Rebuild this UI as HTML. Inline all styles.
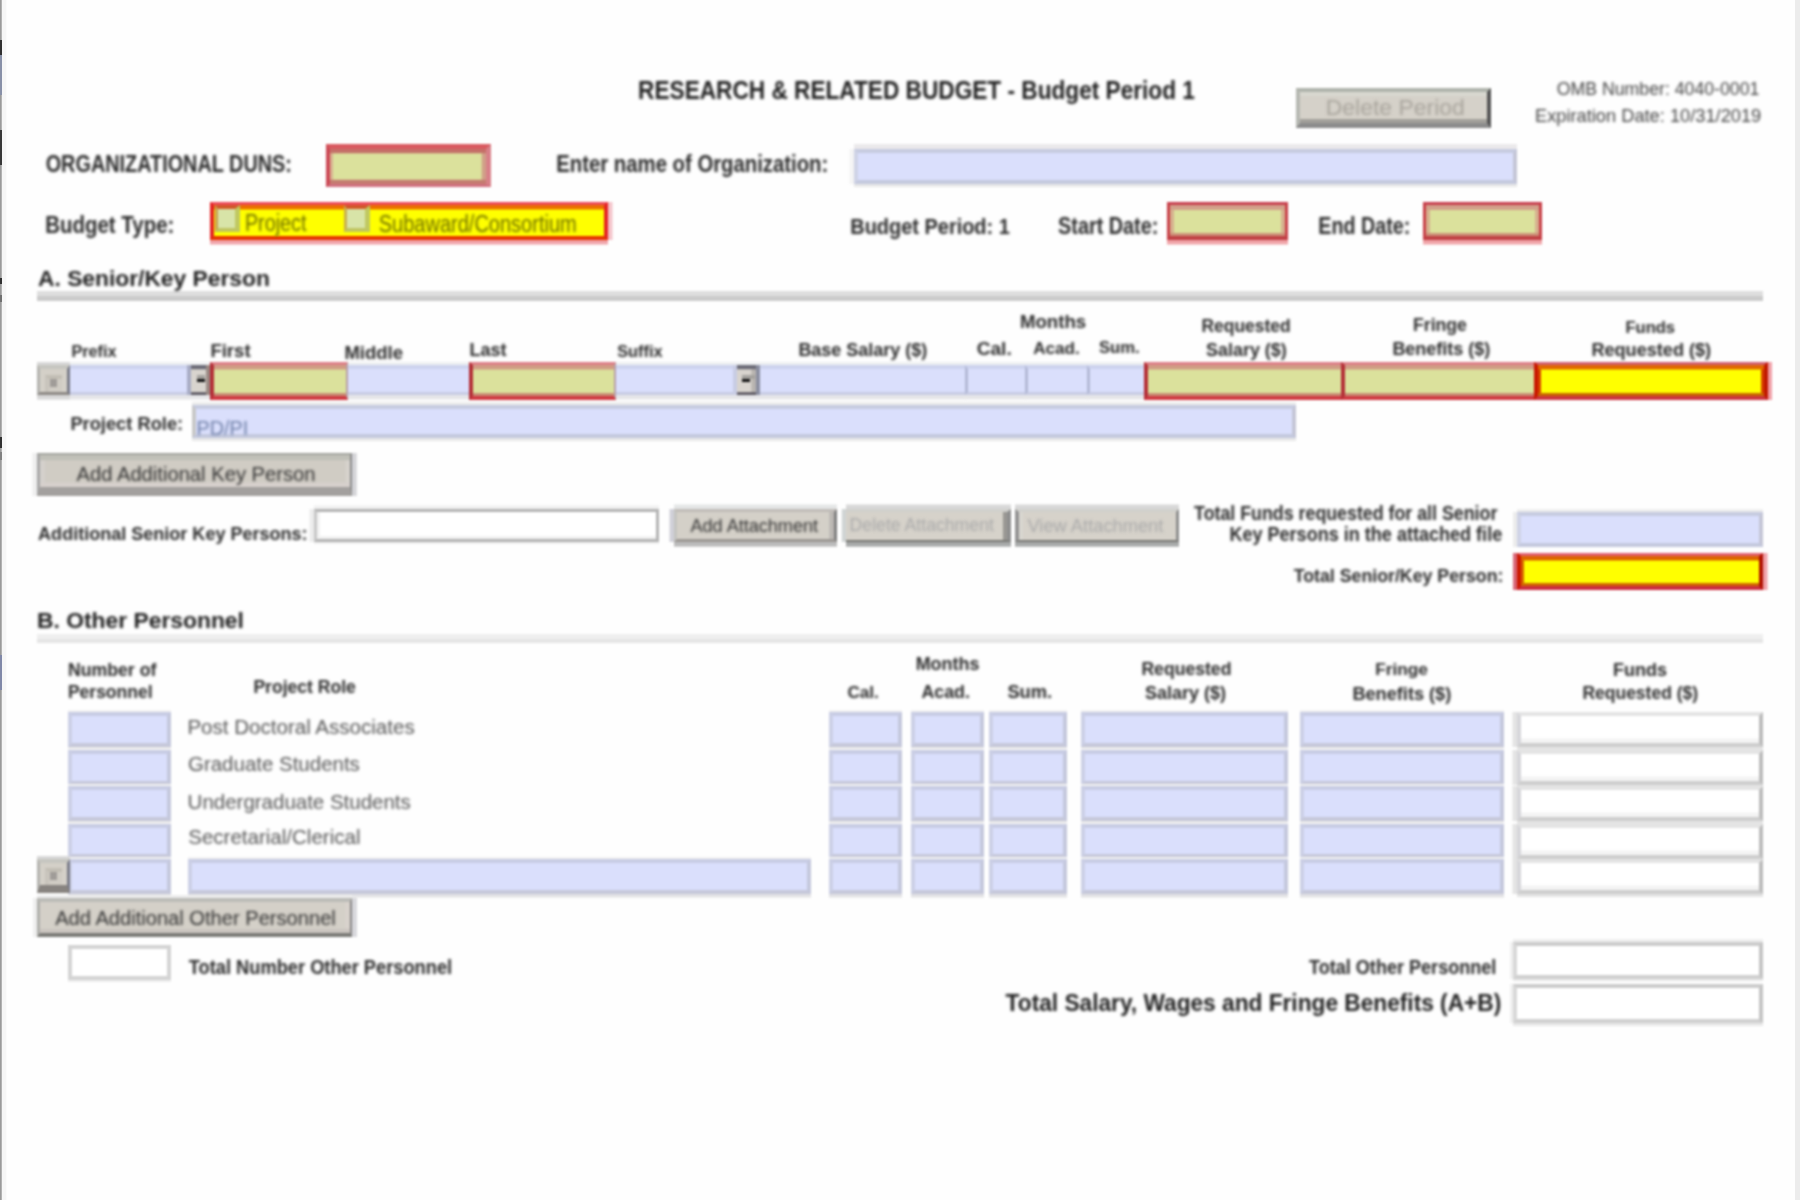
<!DOCTYPE html>
<html><head><meta charset="utf-8"><style>
html,body{margin:0;padding:0;background:#fefefe;width:1800px;height:1200px;overflow:hidden;}
body{position:relative;font-family:"Liberation Sans", sans-serif;-webkit-font-smoothing:antialiased;}
#w{position:absolute;left:0;top:0;width:1800px;height:1200px;filter:blur(0.8px);}
#tw{position:absolute;left:0;top:0;width:1800px;height:1200px;filter:blur(1.6px);}
.t{position:absolute;white-space:nowrap;line-height:1;}
.f{position:absolute;box-sizing:border-box;}
</style></head><body>
<div style="position:absolute;left:0;top:0;width:1px;height:1200px;background:#9a9a9a"></div>
<div style="position:absolute;left:1px;top:0;width:1px;height:1200px;background:#b2b2b2"></div>
<div style="position:absolute;left:2px;top:0;width:4px;height:1200px;background:#f6f6f6"></div>
<div style="position:absolute;left:6px;top:0;width:1px;height:1200px;background:#fbfbfb"></div>
<div style="position:absolute;left:0;top:40px;width:2px;height:15px;background:#303030"></div>
<div style="position:absolute;left:0;top:55px;width:2px;height:40px;background:#8890a8"></div>
<div style="position:absolute;left:0;top:130px;width:2px;height:35px;background:#383838"></div>
<div style="position:absolute;left:0;top:278px;width:2px;height:6px;background:#303030"></div>
<div style="position:absolute;left:0;top:295px;width:2px;height:7px;background:#707070"></div>
<div style="position:absolute;left:0;top:437px;width:2px;height:11px;background:#303030"></div>
<div style="position:absolute;left:0;top:452px;width:2px;height:8px;background:#808080"></div>
<div style="position:absolute;left:0;top:655px;width:2px;height:35px;background:#8088a8"></div>
<div style="position:absolute;left:1795px;top:0;width:5px;height:1200px;background:#ececec"></div>
<div id="w">
<div style="position:absolute;left:37px;top:291px;width:1726px;height:5px;background:#dedede"></div>
<div style="position:absolute;left:37px;top:296px;width:1726px;height:4.5px;background:#cbcbcb"></div>
<div style="position:absolute;left:37px;top:634px;width:1726px;height:4.5px;background:#efefef"></div>
<div style="position:absolute;left:37px;top:638.5px;width:1726px;height:4.5px;background:#e5e5e5"></div>
<div class="f" style="left:1296px;top:88px;width:195px;height:39.599999999999994px;background:#d5d1c9;border-top:4.5px solid #b0b4ac;border-bottom:5px solid #8c8c8c;border-left:4.5px solid #b6b8b2;border-right:4.5px solid #555555;box-shadow:inset 0px 4px 0 0 #d8d8d0,inset 0px -4px 0 0 #a2a09a;"></div>
<div class="f" style="left:326.4px;top:144px;width:164.60000000000002px;height:43px;background:#dbe19c;border-top:5px solid #d95a60;border-bottom:3.5px solid #d07080;border-left:4.5px solid #cc4a56;border-right:5px solid #d88088;box-shadow:inset 0px 4.3px 0 0 #c47068,inset 0px -4.3px 0 0 #c47c70,inset 3px 0px 0 0 #d8b090,inset -4.3px 0px 0 0 #d0a088;"></div>
<div class="f" style="left:854px;top:149px;width:663px;height:35px;background:#dadffc;border-top:4.5px solid #c6cbe0;border-bottom:4.5px solid #c4c9de;border-left:4.5px solid #cfd3e6;border-right:4.5px solid #c4c6d6;box-shadow:0px -5px 0 0 #ebe9eb,0px 3px 0 0 #e8e8e8,-4.5px 0px 0 0 #f4f4f4;"></div>
<div class="f" style="left:209.75px;top:201.75px;width:397.75px;height:38.0px;background:#ffff00;border-top:3px solid #ec4a58;border-bottom:4.5px solid #e63400;border-left:4.5px solid #e42424;border-right:4.5px solid #e42424;box-shadow:inset 0px 4.5px 0 0 #ea7000,0px 4.5px 0 0 #f0a4aa,4.5px 0px 0 0 #f4c4ca;"></div>
<div class="f" style="left:214.5px;top:205px;width:25.5px;height:26.5px;background:#d8e4a8;border-top:4.5px solid #d05828;border-bottom:4.5px solid #c0c460;border-left:3px solid #c8a050;border-right:5px solid #c0c860;"></div>
<div class="f" style="left:344px;top:205px;width:25.5px;height:26.5px;background:#d8e4a8;border-top:4.5px solid #d05828;border-bottom:4.5px solid #c0c460;border-left:3px solid #c8b050;border-right:5px solid #c0c860;"></div>
<div class="f" style="left:1167px;top:201.7px;width:121px;height:37.900000000000006px;background:#dbe19c;border-top:3px solid #c84050;border-bottom:4.6px solid #c04044;border-left:3px solid #c84048;border-right:3px solid #c84048;box-shadow:inset 0px 5px 0 0 #d2a08a,inset 0px -3px 0 0 #cc9078,inset 4px 0px 0 0 #d6b08e,inset -4px 0px 0 0 #d6b08e,0px 4.5px 0 0 #f0a4a8;"></div>
<div class="f" style="left:1422.5px;top:201.7px;width:119.20000000000005px;height:37.900000000000006px;background:#dbe19c;border-top:3px solid #c84050;border-bottom:4.6px solid #c04044;border-left:3px solid #c84048;border-right:3px solid #c84048;box-shadow:inset 0px 5px 0 0 #d2a08a,inset 0px -3px 0 0 #cc9078,inset 4px 0px 0 0 #d6b08e,inset -4px 0px 0 0 #d6b08e,0px 4.5px 0 0 #f0a4a8;"></div>
<div class="f" style="left:36.9px;top:365px;width:33.1px;height:30px;background:#d4d0c8;border-top:4.4px solid #c6c6c0;border-bottom:3px solid #8e8a86;border-left:3px solid #b4b4b0;border-right:3px solid #7a7c88;box-shadow:0px -3px 0 0 #d8d8d8,0px 4.6px 0 0 #d8d8d8;"></div>
<div style="position:absolute;left:45px;top:374.6px;width:17px;height:17px;background:#d0ccc4;box-sizing:border-box;border-top:4.4px solid #c2beb4;border-left:4.8px solid #c8c4bc"></div>
<div style="position:absolute;left:49.8px;top:379px;width:7.7px;height:8px;background:#a09c98"></div>
<div class="f" style="left:70px;top:365px;width:117.1px;height:30px;background:#dadffc;border-top:4.4px solid #cdd3ee;border-bottom:3px solid #c8cce4;box-shadow:0px -3px 0 0 #eef0f2,0px 4.6px 0 0 #e6e6e8;"></div>
<div class="f" style="left:187.1px;top:365px;width:22.700000000000017px;height:30px;background:#d8d4ce;border-left:4.6px solid #a8acc4;border-right:4.8px solid #9a8a84;box-shadow:inset 0px 4.3px 0 0 #6c6c78,inset 0px -2.7px 0 0 #5a5660,0px -3px 0 0 #eef0f2,0px 4.6px 0 0 #e6e6e8;"></div><div style="position:absolute;left:196.9px;top:374.6px;width:8.099999999999994px;height:4.6px;background:#a4a29e"></div><div style="position:absolute;left:196.9px;top:379.2px;width:7.699999999999989px;height:2.6px;background:#141414"></div>
<div class="f" style="left:209.6px;top:362px;width:138.70000000000002px;height:37.60000000000002px;background:#dbe19c;border-top:3px solid #dd8088;border-bottom:4.6px solid #d03a42;border-left:4.6px solid #b43038;border-right:2.8px solid #b8a0a8;box-shadow:inset 0px 4.4px 0 0 #d09c84,inset 0px -3px 0 0 #c88c74;"></div>
<div class="f" style="left:348.3px;top:365px;width:120.69999999999999px;height:30px;background:#dadffc;border-top:4.4px solid #cdd3ee;border-bottom:3px solid #c8cce4;box-shadow:0px -3px 0 0 #eef0f2,0px 4.6px 0 0 #e6e6e8;"></div>
<div class="f" style="left:469px;top:362px;width:147px;height:37.60000000000002px;background:#dbe19c;border-top:3px solid #dd8088;border-bottom:4.6px solid #d03a42;border-left:4.6px solid #b43038;border-right:2.8px solid #b8a0a8;box-shadow:inset 0px 4.4px 0 0 #d09c84,inset 0px -3px 0 0 #c88c74;"></div>
<div class="f" style="left:616px;top:365px;width:117.10000000000002px;height:30px;background:#dadffc;border-top:4.4px solid #cdd3ee;border-bottom:3px solid #c8cce4;box-shadow:0px -3px 0 0 #eef0f2,0px 4.6px 0 0 #e6e6e8;"></div>
<div class="f" style="left:733.1px;top:365px;width:26.699999999999932px;height:30px;background:#d8d4ce;border-left:4.6px solid #c8cce4;border-right:4.8px solid #8a8ea0;box-shadow:inset 0px 4.3px 0 0 #6c6c78,inset 0px -2.7px 0 0 #5a5660,inset -4.6px 0px 0 0 #b8b4b0,0px -3px 0 0 #eef0f2,0px 4.6px 0 0 #e6e6e8;"></div><div style="position:absolute;left:742px;top:374.6px;width:13.0px;height:4.6px;background:#a4a29e"></div><div style="position:absolute;left:742px;top:379.2px;width:8.399999999999977px;height:2.6px;background:#141414"></div>
<div class="f" style="left:759.8px;top:365px;width:206.20000000000005px;height:30px;background:#dadffc;border-top:4.4px solid #cdd3ee;border-bottom:3px solid #c8cce4;box-shadow:0px -3px 0 0 #eef0f2,0px 4.6px 0 0 #e6e6e8;"></div>
<div class="f" style="left:965px;top:365px;width:61px;height:30px;background:#dadffc;border-top:4.4px solid #cdd3ee;border-bottom:3px solid #c8cce4;border-left:3px solid #b4bad6;box-shadow:0px -3px 0 0 #eef0f2,0px 4.6px 0 0 #e6e6e8;"></div>
<div class="f" style="left:1025px;top:365px;width:63px;height:30px;background:#dadffc;border-top:4.4px solid #cdd3ee;border-bottom:3px solid #c8cce4;border-left:3px solid #b4bad6;box-shadow:0px -3px 0 0 #eef0f2,0px 4.6px 0 0 #e6e6e8;"></div>
<div class="f" style="left:1087px;top:365px;width:57px;height:30px;background:#dadffc;border-top:4.4px solid #cdd3ee;border-bottom:3px solid #c8cce4;border-left:3px solid #b4bad6;box-shadow:0px -3px 0 0 #eef0f2,0px 4.6px 0 0 #e6e6e8;"></div>
<div class="f" style="left:1144px;top:362px;width:199px;height:37.60000000000002px;background:#dbe19c;border-top:3px solid #dd8088;border-bottom:4.6px solid #d03a42;border-left:4.6px solid #b43038;border-right:2.8px solid #b8a0a8;box-shadow:inset 0px 4.4px 0 0 #d09c84,inset 0px -3px 0 0 #c88c74;"></div>
<div class="f" style="left:1341px;top:362px;width:195px;height:37.60000000000002px;background:#dbe19c;border-top:3px solid #dd8088;border-bottom:4.6px solid #d03a42;border-left:4.6px solid #b43038;border-right:2.8px solid #b8a0a8;box-shadow:inset 0px 4.4px 0 0 #d09c84,inset 0px -3px 0 0 #c88c74;"></div>
<div class="f" style="left:1534.4px;top:361.9px;width:233.29999999999995px;height:37.700000000000045px;background:#ffff00;border-top:3px solid #d06070;border-bottom:4.6px solid #cc3440;border-left:4.6px solid #c81800;border-right:4.6px solid #c01800;box-shadow:inset 0px 4.4px 0 0 #e06800,inset 0px -3px 0 0 #c86800,inset 3px 0px 0 0 #d84000,inset -3px 0px 0 0 #d84000,4px 0px 0 0 #f0a0a8;"></div>
<div class="f" style="left:192px;top:405px;width:1103.6px;height:32.5px;background:#dadffc;border-top:4.5px solid #c6cbe0;border-bottom:4.5px solid #c4c9de;border-left:4.5px solid #c8c8c8;border-right:4.5px solid #c4c6d6;box-shadow:0px -3px 0 0 #ececec,0px 3px 0 0 #e8e8e8;"></div>
<div class="f" style="left:36.75px;top:453px;width:315.0px;height:42.75px;background:#d0ccc4;border-top:2.75px solid #a4a6a0;border-bottom:9.5px solid #a3a09e;border-left:3px solid #a8a8a8;border-right:2.75px solid #8c8c8c;box-shadow:inset 0px 5.25px 0 0 #c0c0b8,inset 0px -4.5px 0 0 #d6d0cc,inset 5px 0px 0 0 #d4d0cc,inset -4.5px 0px 0 0 #d6d2cc,-4.75px 0px 0 0 #efefef,4.75px 0px 0 0 #d4d4d8;"></div>
<div class="f" style="left:313.8px;top:508.8px;width:345.09999999999997px;height:32.900000000000034px;background:#ffffff;border-top:3px solid #b4b4b4;border-bottom:3px solid #b4b4b4;border-left:3px solid #c8c8c8;border-right:3px solid #b4b4b4;box-shadow:inset 0px -3px 0 0 #f2f2f2,inset 3px 0px 0 0 #f2f2f2,0px -3.5px 0 0 #f0f0f0,-4.5px 0px 0 0 #ececec,0px 2px 0 0 #f0f0f0;"></div>
<div class="f" style="left:673.5px;top:508.8px;width:163.10000000000002px;height:33.099999999999966px;background:#d4d0c8;border-top:3.2px solid #c0bcb8;border-bottom:3px solid #9c9894;border-left:3.2px solid #c4c4c0;border-right:3px solid #808080;box-shadow:inset -4.7px 0px 0 0 #bcb8b4,0px -4.5px 0 0 #e4e6e6,0px 4.7px 0 0 #bcbcbc,-4.5px 0px 0 0 #d0d0d8;"></div>
<div class="f" style="left:846px;top:508.8px;width:165px;height:33.099999999999966px;background:#d6d2ca;border-top:3.2px solid #d0d0cc;border-bottom:2.7px solid #787874;border-right:4.9px solid #8e8e8e;box-shadow:inset -4.1px 0px 0 0 #9a9894,0px -4.5px 0 0 #d8d8d8,0px 4.7px 0 0 #a8aaaa,-4.2px 0px 0 0 #d0d4d4;"></div>
<div class="f" style="left:1014.5px;top:508.8px;width:164.9000000000001px;height:33.099999999999966px;background:#d6d2ca;border-top:3.2px solid #d0d0cc;border-bottom:2.7px solid #787874;border-left:4.5px solid #949494;border-right:3.5px solid #8e8e8e;box-shadow:inset 4px 0px 0 0 #d8d6d0,0px -4.5px 0 0 #d8d8d8,0px 4.7px 0 0 #a8aaaa;"></div>
<div class="f" style="left:1516.7px;top:511.7px;width:246.29999999999995px;height:35.00000000000006px;background:#dadffc;border-top:4.5px solid #c6cbe0;border-bottom:4.5px solid #c4c9de;border-left:4.5px solid #cfd3e6;border-right:4.5px solid #c4c6d6;box-shadow:0px -2.7px 0 0 #ececec,-4px 0px 0 0 #ececec;"></div>
<div class="f" style="left:1516.7px;top:552.5px;width:246.29999999999995px;height:37.5px;background:#ffff00;border-top:3px solid #e06070;border-bottom:4.5px solid #cc2c40;border-left:4.5px solid #cc1800;border-right:4.5px solid #b01000;box-shadow:inset 0px 4.5px 0 0 #dc6400,inset 0px -3px 0 0 #d06800,inset 3px 0px 0 0 #d86000,-4px 0px 0 0 #d86878,4.5px 0px 0 0 #f0a0a8;"></div>
<div class="f" style="left:67.5px;top:712px;width:103.5px;height:34.5px;background:#dadffc;border-top:4px solid #c8cce4;border-bottom:4.5px solid #c6c8da;border-left:4px solid #ccd0e6;border-right:4px solid #c4c8dc;box-shadow:0px 3.5px 0 0 #e2e2e4,0px -2px 0 0 #f2f2f2;"></div>
<div class="f" style="left:829px;top:712px;width:73.29999999999995px;height:34.5px;background:#dadffc;border-top:4px solid #c8cce4;border-bottom:4.5px solid #c6c8da;border-left:4px solid #ccd0e6;border-right:4px solid #c4c8dc;box-shadow:0px 3.5px 0 0 #e2e2e4,0px -2px 0 0 #f2f2f2;"></div>
<div class="f" style="left:910.7px;top:712px;width:72.89999999999998px;height:34.5px;background:#dadffc;border-top:4px solid #c8cce4;border-bottom:4.5px solid #c6c8da;border-left:4px solid #ccd0e6;border-right:4px solid #c4c8dc;box-shadow:0px 3.5px 0 0 #e2e2e4,0px -2px 0 0 #f2f2f2;"></div>
<div class="f" style="left:989.4px;top:712px;width:77.19999999999993px;height:34.5px;background:#dadffc;border-top:4px solid #c8cce4;border-bottom:4.5px solid #c6c8da;border-left:4px solid #ccd0e6;border-right:4px solid #c4c8dc;box-shadow:0px 3.5px 0 0 #e2e2e4,0px -2px 0 0 #f2f2f2;"></div>
<div class="f" style="left:1080.8px;top:712px;width:207.20000000000005px;height:34.5px;background:#dadffc;border-top:4px solid #c8cce4;border-bottom:4.5px solid #c6c8da;border-left:4px solid #ccd0e6;border-right:4px solid #c4c8dc;box-shadow:0px 3.5px 0 0 #e2e2e4,0px -2px 0 0 #f2f2f2;"></div>
<div class="f" style="left:1300px;top:712px;width:204px;height:34.5px;background:#dadffc;border-top:4px solid #c8cce4;border-bottom:4.5px solid #c6c8da;border-left:4px solid #ccd0e6;border-right:4px solid #c4c8dc;box-shadow:0px 3.5px 0 0 #e2e2e4,0px -2px 0 0 #f2f2f2;"></div>
<div class="f" style="left:1517px;top:712px;width:246px;height:35px;background:#ffffff;border-top:4.5px solid #e4e4e4;border-bottom:4.5px solid #cecece;border-left:4.5px solid #d6d6da;border-right:4px solid #bcbcbc;box-shadow:inset 0px -4.5px 0 0 #f4f4f4,0px 3px 0 0 #e4e4e4,-4.5px 0px 0 0 #e4e4e4;"></div>
<div class="f" style="left:67.5px;top:750px;width:103.5px;height:34.5px;background:#dadffc;border-top:4px solid #c8cce4;border-bottom:4.5px solid #c6c8da;border-left:4px solid #ccd0e6;border-right:4px solid #c4c8dc;box-shadow:0px 3.5px 0 0 #e2e2e4,0px -2px 0 0 #f2f2f2;"></div>
<div class="f" style="left:829px;top:750px;width:73.29999999999995px;height:34.5px;background:#dadffc;border-top:4px solid #c8cce4;border-bottom:4.5px solid #c6c8da;border-left:4px solid #ccd0e6;border-right:4px solid #c4c8dc;box-shadow:0px 3.5px 0 0 #e2e2e4,0px -2px 0 0 #f2f2f2;"></div>
<div class="f" style="left:910.7px;top:750px;width:72.89999999999998px;height:34.5px;background:#dadffc;border-top:4px solid #c8cce4;border-bottom:4.5px solid #c6c8da;border-left:4px solid #ccd0e6;border-right:4px solid #c4c8dc;box-shadow:0px 3.5px 0 0 #e2e2e4,0px -2px 0 0 #f2f2f2;"></div>
<div class="f" style="left:989.4px;top:750px;width:77.19999999999993px;height:34.5px;background:#dadffc;border-top:4px solid #c8cce4;border-bottom:4.5px solid #c6c8da;border-left:4px solid #ccd0e6;border-right:4px solid #c4c8dc;box-shadow:0px 3.5px 0 0 #e2e2e4,0px -2px 0 0 #f2f2f2;"></div>
<div class="f" style="left:1080.8px;top:750px;width:207.20000000000005px;height:34.5px;background:#dadffc;border-top:4px solid #c8cce4;border-bottom:4.5px solid #c6c8da;border-left:4px solid #ccd0e6;border-right:4px solid #c4c8dc;box-shadow:0px 3.5px 0 0 #e2e2e4,0px -2px 0 0 #f2f2f2;"></div>
<div class="f" style="left:1300px;top:750px;width:204px;height:34.5px;background:#dadffc;border-top:4px solid #c8cce4;border-bottom:4.5px solid #c6c8da;border-left:4px solid #ccd0e6;border-right:4px solid #c4c8dc;box-shadow:0px 3.5px 0 0 #e2e2e4,0px -2px 0 0 #f2f2f2;"></div>
<div class="f" style="left:1517px;top:750px;width:246px;height:35px;background:#ffffff;border-top:4.5px solid #e4e4e4;border-bottom:4.5px solid #cecece;border-left:4.5px solid #d6d6da;border-right:4px solid #bcbcbc;box-shadow:inset 0px -4.5px 0 0 #f4f4f4,0px 3px 0 0 #e4e4e4,-4.5px 0px 0 0 #e4e4e4;"></div>
<div class="f" style="left:67.5px;top:786px;width:103.5px;height:34.5px;background:#dadffc;border-top:4px solid #c8cce4;border-bottom:4.5px solid #c6c8da;border-left:4px solid #ccd0e6;border-right:4px solid #c4c8dc;box-shadow:0px 3.5px 0 0 #e2e2e4,0px -2px 0 0 #f2f2f2;"></div>
<div class="f" style="left:829px;top:786px;width:73.29999999999995px;height:34.5px;background:#dadffc;border-top:4px solid #c8cce4;border-bottom:4.5px solid #c6c8da;border-left:4px solid #ccd0e6;border-right:4px solid #c4c8dc;box-shadow:0px 3.5px 0 0 #e2e2e4,0px -2px 0 0 #f2f2f2;"></div>
<div class="f" style="left:910.7px;top:786px;width:72.89999999999998px;height:34.5px;background:#dadffc;border-top:4px solid #c8cce4;border-bottom:4.5px solid #c6c8da;border-left:4px solid #ccd0e6;border-right:4px solid #c4c8dc;box-shadow:0px 3.5px 0 0 #e2e2e4,0px -2px 0 0 #f2f2f2;"></div>
<div class="f" style="left:989.4px;top:786px;width:77.19999999999993px;height:34.5px;background:#dadffc;border-top:4px solid #c8cce4;border-bottom:4.5px solid #c6c8da;border-left:4px solid #ccd0e6;border-right:4px solid #c4c8dc;box-shadow:0px 3.5px 0 0 #e2e2e4,0px -2px 0 0 #f2f2f2;"></div>
<div class="f" style="left:1080.8px;top:786px;width:207.20000000000005px;height:34.5px;background:#dadffc;border-top:4px solid #c8cce4;border-bottom:4.5px solid #c6c8da;border-left:4px solid #ccd0e6;border-right:4px solid #c4c8dc;box-shadow:0px 3.5px 0 0 #e2e2e4,0px -2px 0 0 #f2f2f2;"></div>
<div class="f" style="left:1300px;top:786px;width:204px;height:34.5px;background:#dadffc;border-top:4px solid #c8cce4;border-bottom:4.5px solid #c6c8da;border-left:4px solid #ccd0e6;border-right:4px solid #c4c8dc;box-shadow:0px 3.5px 0 0 #e2e2e4,0px -2px 0 0 #f2f2f2;"></div>
<div class="f" style="left:1517px;top:786px;width:246px;height:35px;background:#ffffff;border-top:4.5px solid #e4e4e4;border-bottom:4.5px solid #cecece;border-left:4.5px solid #d6d6da;border-right:4px solid #bcbcbc;box-shadow:inset 0px -4.5px 0 0 #f4f4f4,0px 3px 0 0 #e4e4e4,-4.5px 0px 0 0 #e4e4e4;"></div>
<div class="f" style="left:67.5px;top:823.5px;width:103.5px;height:34.5px;background:#dadffc;border-top:4px solid #c8cce4;border-bottom:4.5px solid #c6c8da;border-left:4px solid #ccd0e6;border-right:4px solid #c4c8dc;box-shadow:0px 3.5px 0 0 #e2e2e4,0px -2px 0 0 #f2f2f2;"></div>
<div class="f" style="left:829px;top:823.5px;width:73.29999999999995px;height:34.5px;background:#dadffc;border-top:4px solid #c8cce4;border-bottom:4.5px solid #c6c8da;border-left:4px solid #ccd0e6;border-right:4px solid #c4c8dc;box-shadow:0px 3.5px 0 0 #e2e2e4,0px -2px 0 0 #f2f2f2;"></div>
<div class="f" style="left:910.7px;top:823.5px;width:72.89999999999998px;height:34.5px;background:#dadffc;border-top:4px solid #c8cce4;border-bottom:4.5px solid #c6c8da;border-left:4px solid #ccd0e6;border-right:4px solid #c4c8dc;box-shadow:0px 3.5px 0 0 #e2e2e4,0px -2px 0 0 #f2f2f2;"></div>
<div class="f" style="left:989.4px;top:823.5px;width:77.19999999999993px;height:34.5px;background:#dadffc;border-top:4px solid #c8cce4;border-bottom:4.5px solid #c6c8da;border-left:4px solid #ccd0e6;border-right:4px solid #c4c8dc;box-shadow:0px 3.5px 0 0 #e2e2e4,0px -2px 0 0 #f2f2f2;"></div>
<div class="f" style="left:1080.8px;top:823.5px;width:207.20000000000005px;height:34.5px;background:#dadffc;border-top:4px solid #c8cce4;border-bottom:4.5px solid #c6c8da;border-left:4px solid #ccd0e6;border-right:4px solid #c4c8dc;box-shadow:0px 3.5px 0 0 #e2e2e4,0px -2px 0 0 #f2f2f2;"></div>
<div class="f" style="left:1300px;top:823.5px;width:204px;height:34.5px;background:#dadffc;border-top:4px solid #c8cce4;border-bottom:4.5px solid #c6c8da;border-left:4px solid #ccd0e6;border-right:4px solid #c4c8dc;box-shadow:0px 3.5px 0 0 #e2e2e4,0px -2px 0 0 #f2f2f2;"></div>
<div class="f" style="left:1517px;top:823.5px;width:246px;height:35.0px;background:#ffffff;border-top:4.5px solid #e4e4e4;border-bottom:4.5px solid #cecece;border-left:4.5px solid #d6d6da;border-right:4px solid #bcbcbc;box-shadow:inset 0px -4.5px 0 0 #f4f4f4,0px 3px 0 0 #e4e4e4,-4.5px 0px 0 0 #e4e4e4;"></div>
<div class="f" style="left:67.5px;top:859px;width:103.5px;height:34.5px;background:#dadffc;border-top:4px solid #c8cce4;border-bottom:4.5px solid #c6c8da;border-left:4px solid #ccd0e6;border-right:4px solid #c4c8dc;box-shadow:0px 3.5px 0 0 #e2e2e4,0px -2px 0 0 #f2f2f2;"></div>
<div class="f" style="left:829px;top:859px;width:73.29999999999995px;height:34.5px;background:#dadffc;border-top:4px solid #c8cce4;border-bottom:4.5px solid #c6c8da;border-left:4px solid #ccd0e6;border-right:4px solid #c4c8dc;box-shadow:0px 3.5px 0 0 #e2e2e4,0px -2px 0 0 #f2f2f2;"></div>
<div class="f" style="left:910.7px;top:859px;width:72.89999999999998px;height:34.5px;background:#dadffc;border-top:4px solid #c8cce4;border-bottom:4.5px solid #c6c8da;border-left:4px solid #ccd0e6;border-right:4px solid #c4c8dc;box-shadow:0px 3.5px 0 0 #e2e2e4,0px -2px 0 0 #f2f2f2;"></div>
<div class="f" style="left:989.4px;top:859px;width:77.19999999999993px;height:34.5px;background:#dadffc;border-top:4px solid #c8cce4;border-bottom:4.5px solid #c6c8da;border-left:4px solid #ccd0e6;border-right:4px solid #c4c8dc;box-shadow:0px 3.5px 0 0 #e2e2e4,0px -2px 0 0 #f2f2f2;"></div>
<div class="f" style="left:1080.8px;top:859px;width:207.20000000000005px;height:34.5px;background:#dadffc;border-top:4px solid #c8cce4;border-bottom:4.5px solid #c6c8da;border-left:4px solid #ccd0e6;border-right:4px solid #c4c8dc;box-shadow:0px 3.5px 0 0 #e2e2e4,0px -2px 0 0 #f2f2f2;"></div>
<div class="f" style="left:1300px;top:859px;width:204px;height:34.5px;background:#dadffc;border-top:4px solid #c8cce4;border-bottom:4.5px solid #c6c8da;border-left:4px solid #ccd0e6;border-right:4px solid #c4c8dc;box-shadow:0px 3.5px 0 0 #e2e2e4,0px -2px 0 0 #f2f2f2;"></div>
<div class="f" style="left:1517px;top:859px;width:246px;height:35px;background:#ffffff;border-top:4.5px solid #e4e4e4;border-bottom:4.5px solid #cecece;border-left:4.5px solid #d6d6da;border-right:4px solid #bcbcbc;box-shadow:inset 0px -4.5px 0 0 #f4f4f4,0px 3px 0 0 #e4e4e4,-4.5px 0px 0 0 #e4e4e4;"></div>
<div class="f" style="left:36.7px;top:859px;width:33.3px;height:34.299999999999955px;background:#d4d0c8;border-top:4.4px solid #c6c6c0;border-bottom:8px solid #888480;border-left:3px solid #b4b4b0;border-right:3px solid #7a7c88;box-shadow:0px -3px 0 0 #d8d8d8;"></div>
<div style="position:absolute;left:45px;top:868px;width:17px;height:17px;background:#d0ccc4;box-sizing:border-box;border-top:4.4px solid #c2beb4;border-left:4.8px solid #c8c4bc"></div>
<div style="position:absolute;left:49.8px;top:872.4px;width:7.7px;height:8px;background:#a09c98"></div>
<div class="f" style="left:187.5px;top:859px;width:623.5px;height:34.5px;background:#dadffc;border-top:4px solid #c8cce4;border-bottom:4.5px solid #c6c8da;border-left:4px solid #ccd0e6;border-right:4px solid #c4c8dc;box-shadow:0px 3.5px 0 0 #e2e2e4,0px -2px 0 0 #f2f2f2;"></div>
<div class="f" style="left:37px;top:897.75px;width:314.75px;height:39.5px;background:#d4d0c8;border-top:4.5px solid #bcbcb8;border-bottom:4.75px solid #7c7c78;border-left:3px solid #b0b0ac;border-right:2.75px solid #8a8888;box-shadow:inset 0px -4.25px 0 0 #cbc5c0,inset -5px 0px 0 0 #d8d2cc,-4px 0px 0 0 #efefef,5px 0px 0 0 #d8d8dc,0px -3px 0 0 #ececec;"></div>
<div class="f" style="left:67.5px;top:945px;width:103.5px;height:35px;background:#ffffff;border-top:4px solid #d4d4d4;border-bottom:4px solid #d4d4d4;border-left:4px solid #d4d4d4;border-right:4px solid #d4d4d4;box-shadow:0px 2px 0 0 #eeeeee;"></div>
<div class="f" style="left:1513px;top:942px;width:250px;height:37.39999999999998px;background:#ffffff;border-top:4px solid #cccccc;border-bottom:4px solid #d0d0d0;border-left:4px solid #d8d8d8;border-right:4px solid #c4c4c4;box-shadow:0px -3px 0 0 #efefef,0px 2px 0 0 #e8e8e8,-3px 0px 0 0 #f0f0f0;"></div>
<div class="f" style="left:1513px;top:983.6px;width:250px;height:39.69999999999993px;background:#ffffff;border-top:4px solid #cccccc;border-bottom:4px solid #d0d0d0;border-left:4px solid #d8d8d8;border-right:4px solid #c4c4c4;box-shadow:0px 3px 0 0 #e8e8e8,-3px 0px 0 0 #f0f0f0;"></div>
</div><div id="tw">
<div class="t" style="left:638.1px;top:80.3px;font-size:22.65px;font-weight:bold;color:#1e1e1e;transform:scaleY(1.120);transform-origin:0 19.17px;">RESEARCH &amp; RELATED BUDGET - Budget Period 1</div>
<div class="t" style="left:1325.7px;top:96.3px;font-size:22.96px;color:#a8a49c;">Delete Period</div>
<div class="t" style="left:1556.8px;top:81.4px;font-size:17.69px;color:#444;">OMB Number: 4040-0001</div>
<div class="t" style="left:1535.0px;top:107.3px;font-size:18.25px;color:#444;">Expiration Date: 10/31/2019</div>
<div class="t" style="left:45.7px;top:155.6px;font-size:19.85px;font-weight:bold;color:#2a2a2a;transform:scaleY(1.205);transform-origin:0 16.80px;">ORGANIZATIONAL DUNS:</div>
<div class="t" style="left:556.3px;top:155.2px;font-size:20.32px;font-weight:bold;color:#2a2a2a;transform:scaleY(1.177);transform-origin:0 17.20px;">Enter name of Organization:</div>
<div class="t" style="left:45.3px;top:215.9px;font-size:20.45px;font-weight:bold;color:#2a2a2a;transform:scaleY(1.205);transform-origin:0 17.31px;">Budget Type:</div>
<div class="t" style="left:244.9px;top:214.8px;font-size:19.77px;color:#6a6a00;transform:scaleY(1.173);transform-origin:0 16.74px;">Project</div>
<div class="t" style="left:378.7px;top:214.6px;font-size:20.02px;color:#6a6a00;transform:scaleY(1.158);transform-origin:0 16.95px;">Subaward/Consortium</div>
<div class="t" style="left:850.3px;top:217.9px;font-size:19.96px;font-weight:bold;color:#2a2a2a;transform:scaleY(1.125);transform-origin:0 16.90px;">Budget Period: 1</div>
<div class="t" style="left:1058.1px;top:217.7px;font-size:19.82px;font-weight:bold;color:#2a2a2a;transform:scaleY(1.206);transform-origin:0 16.78px;">Start Date:</div>
<div class="t" style="left:1318.3px;top:217.8px;font-size:19.72px;font-weight:bold;color:#2a2a2a;transform:scaleY(1.213);transform-origin:0 16.69px;">End Date:</div>
<div class="t" style="left:38.0px;top:267.1px;font-size:22.80px;font-weight:bold;color:#1e1e1e;">A. Senior/Key Person</div>
<div class="t" style="left:71.5px;top:342.6px;font-size:16.22px;font-weight:bold;color:#2a2a2a;">Prefix</div>
<div class="t" style="left:210.4px;top:341.5px;font-size:18.54px;font-weight:bold;color:#2a2a2a;">First</div>
<div class="t" style="left:344.4px;top:343.5px;font-size:18.50px;font-weight:bold;color:#2a2a2a;">Middle</div>
<div class="t" style="left:469.4px;top:341.4px;font-size:18.06px;font-weight:bold;color:#2a2a2a;">Last</div>
<div class="t" style="left:617.2px;top:342.5px;font-size:16.35px;font-weight:bold;color:#2a2a2a;">Suffix</div>
<div class="t" style="left:798.4px;top:342.1px;font-size:17.97px;font-weight:bold;color:#2a2a2a;">Base Salary ($)</div>
<div class="t" style="left:1020.0px;top:312.6px;font-size:18.62px;font-weight:bold;color:#2a2a2a;">Months</div>
<div class="t" style="left:976.7px;top:338.7px;font-size:19.12px;font-weight:bold;color:#2a2a2a;">Cal.</div>
<div class="t" style="left:1033.2px;top:339.7px;font-size:17.08px;font-weight:bold;color:#2a2a2a;">Acad.</div>
<div class="t" style="left:1098.9px;top:339.6px;font-size:16.67px;font-weight:bold;color:#2a2a2a;">Sum.</div>
<div class="t" style="left:1201.5px;top:318.3px;font-size:17.43px;font-weight:bold;color:#2a2a2a;">Requested</div>
<div class="t" style="left:1206.1px;top:342.2px;font-size:17.91px;font-weight:bold;color:#2a2a2a;">Salary ($)</div>
<div class="t" style="left:1413.1px;top:317.4px;font-size:17.61px;font-weight:bold;color:#2a2a2a;">Fringe</div>
<div class="t" style="left:1392.4px;top:340.6px;font-size:17.97px;font-weight:bold;color:#2a2a2a;">Benefits ($)</div>
<div class="t" style="left:1625.5px;top:319.5px;font-size:16.53px;font-weight:bold;color:#2a2a2a;">Funds</div>
<div class="t" style="left:1591.4px;top:341.4px;font-size:18.13px;font-weight:bold;color:#2a2a2a;">Requested ($)</div>
<div class="t" style="left:70.4px;top:415.1px;font-size:18.29px;font-weight:bold;color:#2a2a2a;">Project Role:</div>
<div class="t" style="left:196.6px;top:418.7px;font-size:19.76px;color:#7080a8;">PD/PI</div>
<div class="t" style="left:76.5px;top:463.6px;font-size:20.19px;color:#333;">Add Additional Key Person</div>
<div class="t" style="left:38.1px;top:525.3px;font-size:18.05px;font-weight:bold;color:#2a2a2a;">Additional Senior Key Persons:</div>
<div class="t" style="left:690.5px;top:516.9px;font-size:18.07px;color:#333;">Add Attachment</div>
<div class="t" style="left:849.6px;top:517.1px;font-size:17.67px;color:#aaa;">Delete Attachment</div>
<div class="t" style="left:1027.5px;top:516.8px;font-size:18.30px;color:#aaa;">View Attachment</div>
<div class="t" style="left:1194.1px;top:505.8px;font-size:17.81px;font-weight:bold;color:#2a2a2a;transform:scaleY(1.180);transform-origin:0 15.08px;">Total Funds requested for all Senior</div>
<div class="t" style="left:1229.4px;top:526.3px;font-size:18.06px;font-weight:bold;color:#2a2a2a;transform:scaleY(1.083);transform-origin:0 15.29px;">Key Persons in the attached file</div>
<div class="t" style="left:1293.7px;top:567.9px;font-size:17.76px;font-weight:bold;color:#2a2a2a;transform:scaleY(1.077);transform-origin:0 15.03px;">Total Senior/Key Person:</div>
<div class="t" style="left:37.1px;top:609.3px;font-size:22.84px;font-weight:bold;color:#1e1e1e;">B. Other Personnel</div>
<div class="t" style="left:67.9px;top:661.7px;font-size:17.69px;font-weight:bold;color:#2a2a2a;">Number of</div>
<div class="t" style="left:67.9px;top:684.3px;font-size:17.53px;font-weight:bold;color:#2a2a2a;">Personnel</div>
<div class="t" style="left:253.4px;top:679.2px;font-size:17.57px;font-weight:bold;color:#2a2a2a;">Project Role</div>
<div class="t" style="left:915.7px;top:655.8px;font-size:17.93px;font-weight:bold;color:#2a2a2a;">Months</div>
<div class="t" style="left:847.5px;top:684.2px;font-size:17.09px;font-weight:bold;color:#2a2a2a;">Cal.</div>
<div class="t" style="left:921.5px;top:683.9px;font-size:17.76px;font-weight:bold;color:#2a2a2a;">Acad.</div>
<div class="t" style="left:1007.4px;top:683.3px;font-size:18.33px;font-weight:bold;color:#2a2a2a;">Sum.</div>
<div class="t" style="left:1141.4px;top:661.2px;font-size:17.63px;font-weight:bold;color:#2a2a2a;">Requested</div>
<div class="t" style="left:1145.1px;top:685.0px;font-size:17.95px;font-weight:bold;color:#2a2a2a;">Salary ($)</div>
<div class="t" style="left:1375.2px;top:661.4px;font-size:17.28px;font-weight:bold;color:#2a2a2a;">Fringe</div>
<div class="t" style="left:1352.4px;top:684.9px;font-size:18.16px;font-weight:bold;color:#2a2a2a;">Benefits ($)</div>
<div class="t" style="left:1613.1px;top:661.0px;font-size:18.01px;font-weight:bold;color:#2a2a2a;">Funds</div>
<div class="t" style="left:1582.4px;top:685.2px;font-size:17.51px;font-weight:bold;color:#2a2a2a;">Requested ($)</div>
<div class="t" style="left:187.4px;top:717.1px;font-size:20.55px;color:#555;">Post Doctoral Associates</div>
<div class="t" style="left:188.0px;top:753.8px;font-size:20.48px;color:#555;">Graduate Students</div>
<div class="t" style="left:187.6px;top:792.1px;font-size:20.49px;color:#555;">Undergraduate Students</div>
<div class="t" style="left:188.2px;top:827.4px;font-size:20.54px;color:#555;">Secretarial/Clerical</div>
<div class="t" style="left:55.2px;top:908.2px;font-size:20.13px;color:#333;">Add Additional Other Personnel</div>
<div class="t" style="left:188.8px;top:958.5px;font-size:18.26px;font-weight:bold;color:#2a2a2a;transform:scaleY(1.111);transform-origin:0 15.45px;">Total Number Other Personnel</div>
<div class="t" style="left:1309.0px;top:958.7px;font-size:18.07px;font-weight:bold;color:#2a2a2a;transform:scaleY(1.123);transform-origin:0 15.29px;">Total Other Personnel</div>
<div class="t" style="left:1005.6px;top:991.5px;font-size:22.70px;font-weight:bold;color:#1e1e1e;transform:scaleY(1.085);transform-origin:0 19.21px;">Total Salary, Wages and Fringe Benefits (A+B)</div>
</div></body></html>
